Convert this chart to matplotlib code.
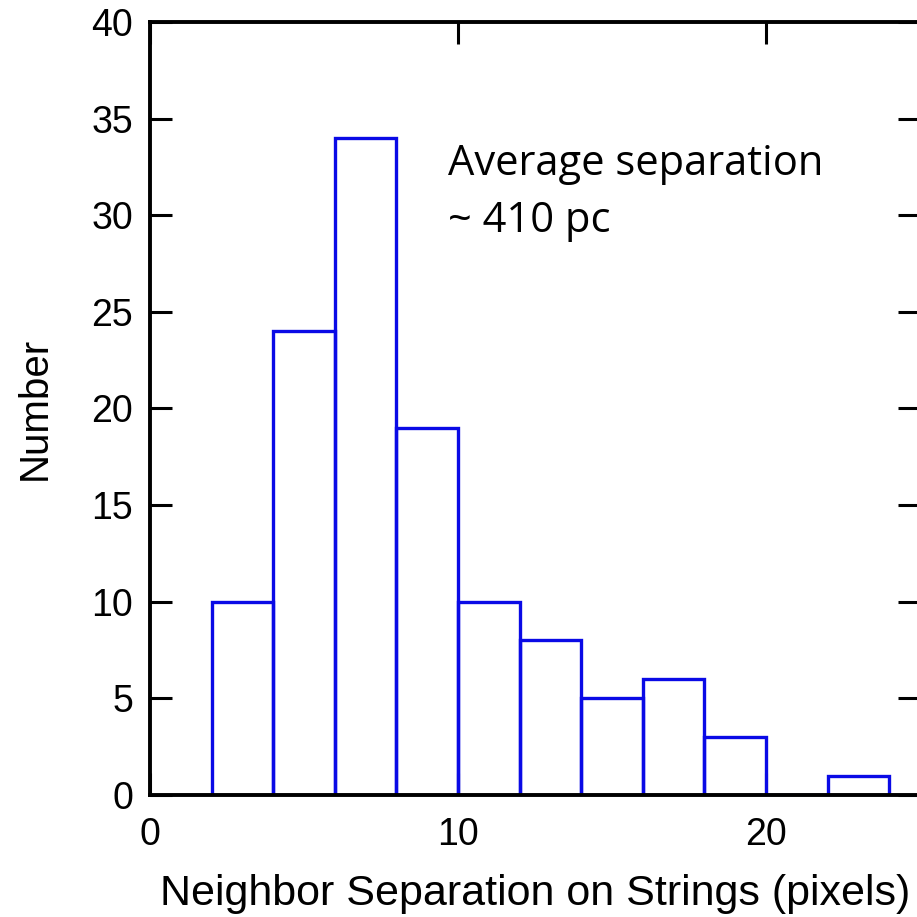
import matplotlib.pyplot as plt
import numpy as np

bin_edges = [2, 4, 6, 8, 10, 12, 14, 16, 18, 20, 22, 24]
counts = [10, 24, 34, 19, 10, 8, 5, 6, 3, 0, 1]
x_ticks = [0, 10, 20]
y_ticks = [0, 5, 10, 15, 20, 25, 30, 35, 40]
note_lines = ["Average separation", "~ 410 pc"]

plt.rcParams["font.family"] = ["Liberation Sans", "DejaVu Sans"]

fig = plt.figure(figsize=(9.17, 9.17), dpi=100)
ax = fig.add_axes([150 / 917, 122 / 917, 770 / 917, 773 / 917])

bar_color = "#0a0ae6"
# each bar drawn as an open outline
for left, right, c in zip(bin_edges[:-1], bin_edges[1:], counts):
    ax.plot([left, left, right, right], [0, c, c, 0], color=bar_color,
            linewidth=2.4, solid_joinstyle="miter")

ax.set_xlim(0, 25)
ax.set_ylim(0, 40)
ax.set_xticks(x_ticks)
ax.set_yticks(y_ticks)
ax.tick_params(direction="in", length=16, width=2.2, labelsize=27,
               top=True, right=True)
ax.tick_params(axis="x", pad=16)
ax.tick_params(axis="y", pad=12)
for s in ax.spines.values():
    s.set_linewidth(2.8)
    s.set_zorder(3)
ax.spines["right"].set_visible(False)

ax.set_xlabel("Neighbor Separation on Strings (pixels)", fontsize=31, labelpad=15)
ax.set_ylabel("Number", fontsize=29, labelpad=27)

ax.text(9.68, 32.08, note_lines[0], fontsize=30,
        family=["Open Sans", "DejaVu Sans"], va="baseline", ha="left")
ax.text(9.68, 29.13, note_lines[1], fontsize=30,
        family=["Open Sans", "DejaVu Sans"], va="baseline", ha="left")

fig.savefig("out.png", dpi=100)
